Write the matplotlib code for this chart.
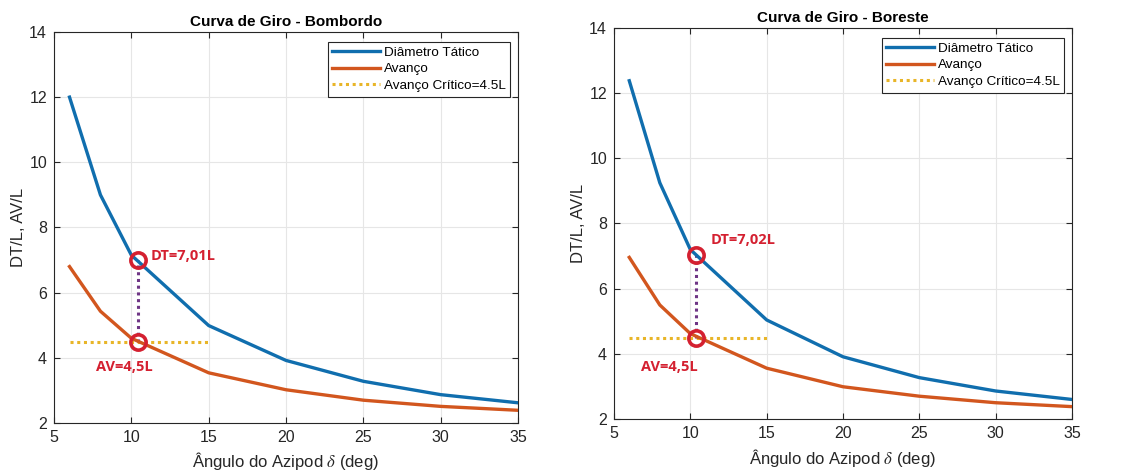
import matplotlib
matplotlib.use("Agg")
import matplotlib.pyplot as plt

plt.rcParams['font.family'] = ['Liberation Sans', 'DejaVu Sans']
plt.rcParams['mathtext.fontset'] = 'stix'

# Azipod angle (deg)
angles = [6, 8, 10, 15, 20, 25, 30, 35]

# Port turn (Bombordo)
dt_port = [12.0, 9.0, 7.15, 4.99, 3.92, 3.28, 2.87, 2.62]
av_port = [6.8, 5.43, 4.6, 3.54, 3.02, 2.70, 2.51, 2.39]

# Starboard turn (Boreste)
dt_stbd = [12.38, 9.25, 7.2, 5.04, 3.91, 3.27, 2.86, 2.60]
av_stbd = [6.96, 5.5, 4.62, 3.56, 2.99, 2.70, 2.50, 2.38]

critical_av = 4.5
critical_range = [6, 15]
crit_angle = 10.4
dt_at_crit = {'port': 7.01, 'stbd': 7.02}
av_at_crit = 4.5

titles = ['Curva de Giro - Bombordo', 'Curva de Giro - Boreste']
dt_labels = ['DT=7,01L', 'DT=7,02L']
av_label = 'AV=4,5L'

BLUE = '#106EAE'
ORANGE = '#D2561E'
YELLOW = '#E8B528'
PURPLE = '#6E3585'
RED = '#D42030'
AX_COL = '#262626'

fig = plt.figure(figsize=(11.26, 4.74), dpi=100)
ax_l = fig.add_axes([0.048, 0.1076, 0.412, 0.825])
ax_r = fig.add_axes([0.5453, 0.116, 0.4067, 0.825])

configs = [
    (ax_l, dt_port, av_port, dt_at_crit['port'], titles[0], dt_labels[0], (11.25, 7.13), (7.7, 3.72)),
    (ax_r, dt_stbd, av_stbd, dt_at_crit['stbd'], titles[1], dt_labels[1], (11.3, 7.5), (6.8, 3.6)),
]

for ax, dt, av, dtc, title, dtl, dt_pos, av_pos in configs:
    ax.plot(angles, dt, color=BLUE, lw=2.4, label='Diâmetro Tático', zorder=3)
    ax.plot(angles, av, color=ORANGE, lw=2.4, label='Avanço', zorder=3)
    ax.plot(critical_range, [critical_av, critical_av], color=YELLOW, lw=2.2,
            ls=(0, (1, 1.2)), label='Avanço Crítico=4.5L', zorder=2)
    ax.plot([crit_angle, crit_angle], [av_at_crit, dtc], color=PURPLE, lw=2.2,
            ls=(0, (1, 1.2)), zorder=2)
    ax.plot([crit_angle, crit_angle], [av_at_crit, dtc], ls='none', marker='o',
            ms=11, mfc='none', mec=RED, mew=2.6, zorder=4)
    ax.text(dt_pos[0], dt_pos[1], dtl, color=RED, fontsize=10.5, fontweight='bold',
            family=['Open Sans', 'DejaVu Sans'], va='center', ha='left')
    ax.text(av_pos[0], av_pos[1], av_label, color=RED, fontsize=10.5, fontweight='bold',
            family=['Open Sans', 'DejaVu Sans'], va='center', ha='left')

    ax.set_xlim(5, 35)
    ax.set_ylim(2, 14)
    ax.set_xticks([5, 10, 15, 20, 25, 30, 35])
    ax.set_yticks([2, 4, 6, 8, 10, 12, 14])
    ax.grid(True, color='#E6E6E6', lw=0.8)
    ax.set_axisbelow(True)
    ax.tick_params(direction='in', top=True, right=True, length=4, width=0.8,
                   colors=AX_COL, labelsize=11.5, labelcolor=AX_COL, pad=5)
    for sp in ax.spines.values():
        sp.set_color(AX_COL)
        sp.set_linewidth(0.8)
    ax.set_title(title, fontsize=11, fontweight='bold', color='black', pad=4)
    ax.set_xlabel(r'Ângulo do Azipod $\delta$ (deg)', fontsize=12, color=AX_COL, labelpad=4)
    ax.set_ylabel('DT/L, AV/L', fontsize=12, color=AX_COL, labelpad=2)
    leg = ax.legend(loc='upper right', bbox_to_anchor=(0.992, 0.985), fontsize=9.7,
                    handlelength=3.5, handletextpad=0.3, borderpad=0.35,
                    labelspacing=0.3, fancybox=False, framealpha=1, borderaxespad=0.3)
    leg.get_frame().set_edgecolor(AX_COL)
    leg.get_frame().set_linewidth(0.8)

fig.savefig('out.png', dpi=100)
